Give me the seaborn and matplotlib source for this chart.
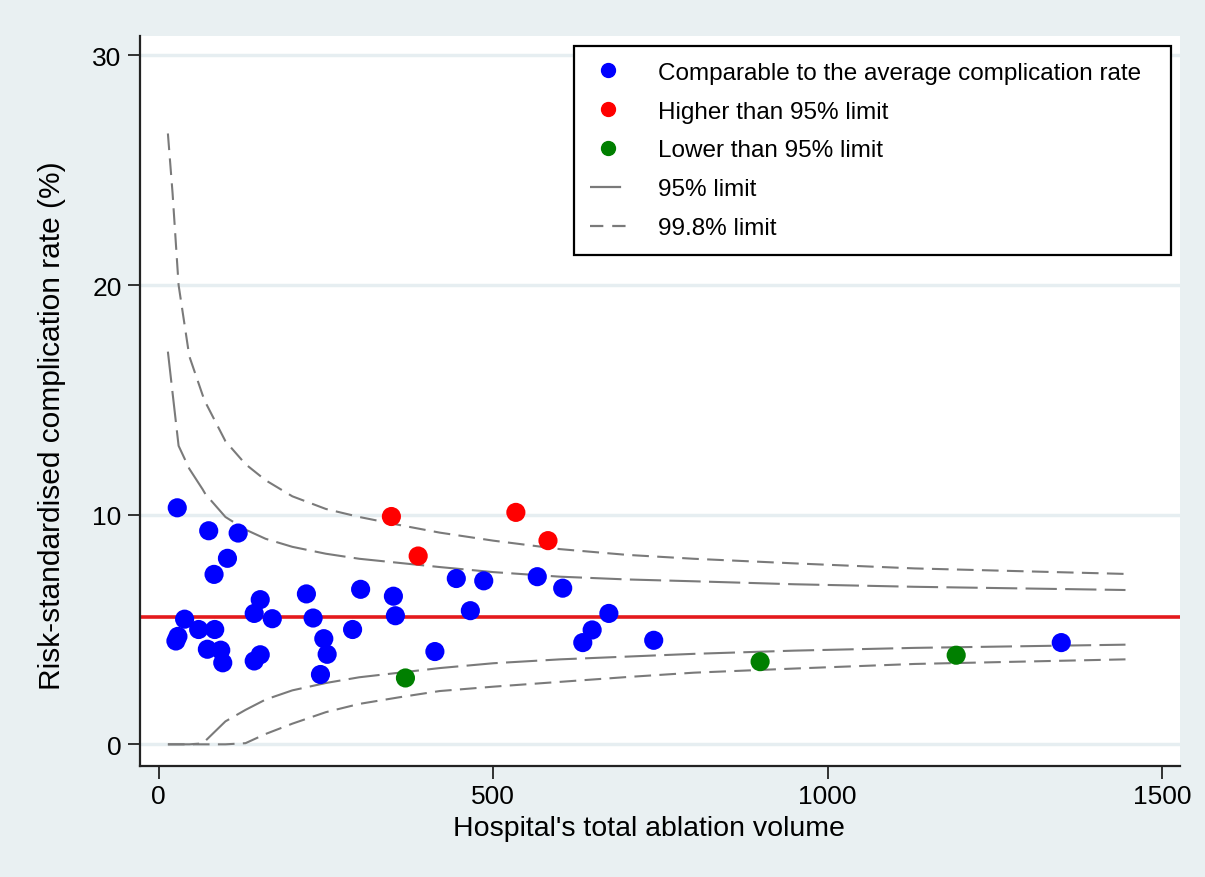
import pandas as pd
import matplotlib.pyplot as plt
import seaborn as sns
from matplotlib.lines import Line2D

# Hospitals: total ablation volume vs risk-standardised complication rate
blue_x = [28, 75, 119, 103, 83, 152, 221, 302, 351, 39, 143, 170, 231, 354, 60, 84, 29, 26, 290,
          247, 73, 93, 96, 143, 152, 252, 242, 413, 445, 486, 566, 604, 466, 673, 648, 634, 740, 1349]
blue_y = [10.3, 9.3, 9.2, 8.1, 7.4, 6.3, 6.55, 6.75, 6.45, 5.45, 5.7, 5.47, 5.5, 5.6, 5.0, 5.0, 4.7, 4.5, 5.0,
          4.6, 4.14, 4.1, 3.55, 3.63, 3.9, 3.92, 3.04, 4.04, 7.22, 7.12, 7.3, 6.8, 5.82, 5.7, 4.98, 4.43, 4.53, 4.43]
red_x = [348, 388, 534, 582]
red_y = [9.92, 8.2, 10.1, 8.87]
green_x = [369, 899, 1192]
green_y = [2.89, 3.6, 3.88]

average_rate = 5.53

# control limits
limit_x = [14, 21, 30, 46, 66, 70, 100, 130, 160, 200, 250, 300, 360, 420, 500, 600, 700, 800, 950, 1130, 1445]
upper_998 = [26.6, 24.0, 20.0, 16.9, 15.2, 14.9, 13.2, 12.2, 11.5, 10.8, 10.25, 9.9, 9.55, 9.22, 8.87, 8.5, 8.25, 8.08, 7.88, 7.66, 7.42]
upper_95 = [17.1, 15.3, 13.0, 12.0, 11.1, 10.9, 9.9, 9.35, 8.95, 8.6, 8.3, 8.08, 7.9, 7.72, 7.5, 7.3, 7.18, 7.1, 6.97, 6.86, 6.72]
lower_95 = [0, 0, 0, 0, 0.04, 0.15, 1.0, 1.5, 1.95, 2.35, 2.67, 2.92, 3.12, 3.32, 3.53, 3.7, 3.82, 3.94, 4.08, 4.2, 4.34]
lower_998 = [0, 0, 0, 0, 0, 0, 0, 0.05, 0.45, 0.9, 1.4, 1.76, 2.05, 2.32, 2.51, 2.72, 2.93, 3.12, 3.3, 3.5, 3.7]

labels = ['Comparable to the average complication rate', 'Higher than 95% limit', 'Lower than 95% limit']
colors = ['#0000ff', '#ff0000', '#007f00']

points = pd.DataFrame({
    'volume': blue_x + red_x + green_x,
    'rate': blue_y + red_y + green_y,
    'group': [labels[0]] * len(blue_x) + [labels[1]] * len(red_x) + [labels[2]] * len(green_x),
})
limits = pd.DataFrame({'volume': limit_x, 'u998': upper_998, 'u95': upper_95,
                       'l95': lower_95, 'l998': lower_998})

sns.set_style('white')
plt.rcParams['font.family'] = ['Liberation Sans', 'DejaVu Sans']
plt.rcParams['text.color'] = 'black'
plt.rcParams['axes.labelcolor'] = 'black'
plt.rcParams['xtick.color'] = 'black'
plt.rcParams['ytick.color'] = 'black'

bg = '#e9f0f2'
fig = plt.figure(figsize=(12.05, 8.78), dpi=100, facecolor=bg)
ax = fig.add_axes([0.116, 0.126, 0.863, 0.832])
ax.set_facecolor('white')

grey = '#7a7a7a'
dash95 = (0, (15, 4))
dash998 = (0, (8, 4))
sns.lineplot(data=limits, x='volume', y='u998', ax=ax, color=grey, lw=1.5, linestyle=dash998, zorder=3)
sns.lineplot(data=limits, x='volume', y='u95', ax=ax, color=grey, lw=1.5, linestyle=dash95, zorder=3)
sns.lineplot(data=limits, x='volume', y='l95', ax=ax, color=grey, lw=1.5, linestyle=dash95, zorder=3)
sns.lineplot(data=limits, x='volume', y='l998', ax=ax, color=grey, lw=1.5, linestyle=dash998, zorder=3)

ax.axhline(average_rate, color='#e41a1c', lw=2.6, zorder=2)

sns.scatterplot(data=points, x='volume', y='rate', hue='group', hue_order=labels,
                palette=colors, s=190, linewidth=0, legend=False, ax=ax, zorder=5)

ax.set_xlim(-28, 1526)
ax.set_ylim(-0.96, 30.85)
ax.set_xticks([0, 500, 1000, 1500])
ax.set_yticks([0, 10, 20, 30])
ax.grid(axis='y', color='#e6eef1', lw=2.5, zorder=0)
ax.set_axisbelow(True)
for side in ['top', 'right']:
    ax.spines[side].set_visible(False)
for side in ['left', 'bottom']:
    ax.spines[side].set_color('#222222')
    ax.spines[side].set_linewidth(1.6)
ax.tick_params(axis='both', direction='out', length=9, width=1.3, color='#222222',
               labelsize=19, left=True, bottom=True, pad=4)
ax.set_xlabel("Hospital's total ablation volume", fontsize=20.5)
ax.set_ylabel('Risk-standardised complication rate (%)', fontsize=21.5)
ax.xaxis.set_label_coords(0.49, -0.066)
ax.yaxis.set_label_coords(-0.071, 0.468)

handles = [Line2D([], [], marker='o', ls='', color=c, markersize=10) for c in colors]
handles.append(Line2D([], [], color=grey, lw=1.6, dashes=(14, 3, 0.6, 3)))
handles.append(Line2D([], [], color=grey, lw=1.6, dashes=(6, 4)))
leg = ax.legend(handles, labels + ['95% limit', '99.8% limit'], loc='upper left',
                bbox_to_anchor=(0.418, 0.70, 0.574, 0.286), mode='expand',
                fontsize=17.5, frameon=True, fancybox=False,
                edgecolor='black', framealpha=1, labelspacing=0.69, handlelength=1.5,
                handletextpad=1.3, borderpad=0.65, borderaxespad=0)
leg.get_frame().set_linewidth(1.6)

fig.savefig('out.png', dpi=100, facecolor=bg)
